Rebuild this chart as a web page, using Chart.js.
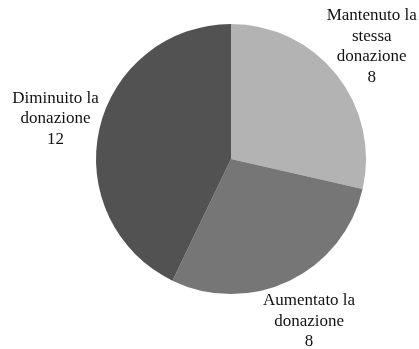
<!DOCTYPE html>
<html>
<head>
<meta charset="utf-8">
<script src="https://cdn.jsdelivr.net/npm/chart.js@4"></script>
<style>
  body { margin: 0; background: #fff; }
  #wrap { width: 419px; height: 349px; position: relative; }
</style>
</head>
<body>
<div id="wrap"><canvas id="pie"></canvas></div>
<script>
const categories = [
    ['Mantenuto la', 'stessa', 'donazione'],
    ['Aumentato la', 'donazione'],
    ['Diminuito la', 'donazione']
];
const counts = [8, 8, 12];
const sliceColors = ['#b3b3b3', '#767676', '#525252'];

// writes each slice's name and count outside the pie, along the slice's middle angle
const outsideLabels = {
    id: 'outsideLabels',
    afterDatasetsDraw(chart) {
        const ctx = chart.ctx;
        const meta = chart.getDatasetMeta(0);
        ctx.save();
        ctx.font = '17px "Liberation Serif", "Times New Roman", serif';
        ctx.fillStyle = '#111';
        ctx.textAlign = 'center';
        ctx.textBaseline = 'middle';
        meta.data.forEach((arc, i) => {
            const p = arc.getProps(['x', 'y', 'startAngle', 'endAngle', 'outerRadius'], true);
            const mid = (p.startAngle + p.endAngle) / 2;
            const r = p.outerRadius + 45;
            const cx = p.x + Math.cos(mid) * r;
            const cy = p.y + Math.sin(mid) * r;
            const lines = categories[i].concat([String(counts[i])]);
            const lh = 20.5;
            const top = cy - (lines.length - 1) * lh / 2;
            lines.forEach((t, k) => ctx.fillText(t, cx, top + k * lh));
        });
        ctx.restore();
    }
};

new Chart(document.getElementById('pie'), {
    type: 'pie',
    data: {
        labels: categories.map(c => c.join(' ')),
        datasets: [{
            data: counts,
            backgroundColor: sliceColors,
            borderWidth: 0
        }]
    },
    options: {
        responsive: true,
        maintainAspectRatio: false,
        animation: false,
        layout: { padding: { left: 96, right: 53, top: 24, bottom: 55 } },
        plugins: {
            legend: { display: false },
            tooltip: { enabled: false }
        }
    },
    plugins: [outsideLabels]
});
</script>
</body>
</html>
